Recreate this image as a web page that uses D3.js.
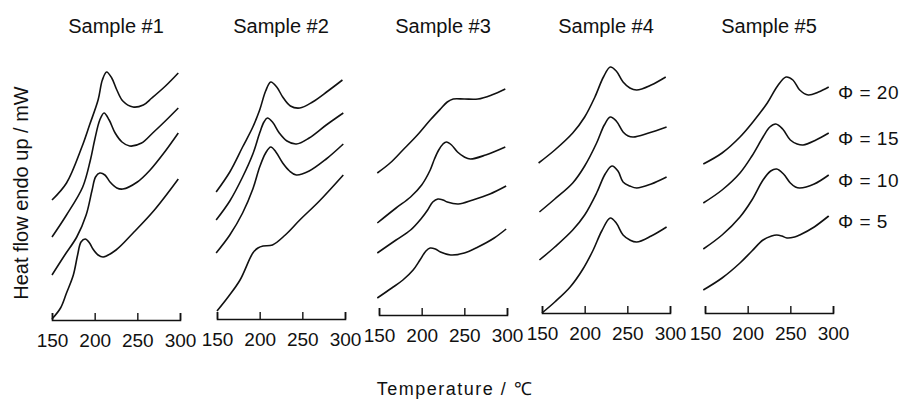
<!DOCTYPE html>
<html>
<head>
<meta charset="utf-8">
<script src="https://cdn.jsdelivr.net/npm/d3@7"></script>
<style>
  body { margin: 0; background: #fff; }
  svg text { font-family: Arial, "Liberation Sans", sans-serif; fill: #111; }
</style>
</head>
<body>
<div id="chart"></div>
<script>
// data: [temperature, heat flow (arb.)], curves ordered phi 5,10,15,20
var sampleNames = ["Sample #1", "Sample #2", "Sample #3", "Sample #4", "Sample #5"];
var phiLevels = [5, 10, 15, 20];
var tickTemps = [150, 200, 250, 300];

var sample1 = [
	[[150,1],[160,12],[167,27],[175,45],[180,65],[184,78],[189,81],[194,77],[198,71],[204,65],[210,63],[225,70],[245,87],[270,110],[298,141]],
	[[150,45],[165,65],[179,83],[190,105],[197,130],[201,143],[206,147],[212,145],[218,138],[226,132],[233,131],[250,138],[265,150],[282,168],[298,187]],
	[[150,83],[167,105],[186,133],[195,160],[200,180],[206,200],[211,207],[217,200],[224,187],[232,178],[241,174],[255,177],[268,187],[284,200],[298,212]],
	[[150,120],[167,137],[185,173],[194,195],[204,220],[209,240],[214,248],[220,242],[226,230],[233,219],[245,213],[257,215],[267,222],[283,234],[298,247]]
];
var sample2 = [
	[[150,8],[163,22],[177,39],[192,66],[198,71],[204,73],[215,74],[230,84],[247,99],[270,118],[298,144]],
	[[149,66],[165,84],[180,106],[192,130],[200,152],[207,166],[213,172],[219,167],[227,156],[235,148],[243,144],[258,148],[278,160],[298,175]],
	[[149,99],[165,118],[180,142],[192,165],[200,186],[205,197],[209,201],[215,197],[223,186],[232,178],[243,175],[258,181],[278,194],[298,206]],
	[[149,127],[165,147],[180,172],[192,192],[200,209],[207,228],[213,237],[220,232],[227,222],[236,213],[247,211],[262,217],[280,228],[297,239]]
];
var sample3 = [
	[[148,17],[165,27],[178,35],[190,45],[198,55],[205,64],[210,67],[216,66],[222,63],[234,60],[250,62],[266,68],[285,77],[299,86]],
	[[148,62],[170,75],[187,85],[200,97],[207,105],[213,113],[219,116],[225,115],[230,113],[243,111],[260,115],[280,121],[299,129]],
	[[148,92],[170,107],[187,118],[200,130],[210,145],[215,156],[220,165],[225,171],[229,173],[235,170],[242,163],[250,158],[257,156],[275,160],[298,168]],
	[[148,142],[163,152],[178,165],[195,180],[210,195],[222,206],[230,213],[237,216],[250,216],[266,216],[282,220],[298,226]]
];
var sample4 = [
	[[150,0],[165,11],[183,26],[198,44],[210,63],[220,82],[230,95],[237,90],[245,78],[253,73],[261,71],[278,77],[296,86]],
	[[147,53],[165,66],[186,83],[200,98],[214,120],[224,139],[232,147],[239,142],[245,131],[253,127],[261,125],[278,129],[296,136]],
	[[147,101],[165,114],[186,130],[200,147],[214,170],[223,188],[230,196],[237,192],[245,181],[251,177],[257,176],[275,180],[296,186]],
	[[146,150],[165,163],[186,180],[200,196],[212,216],[222,236],[230,246],[237,242],[245,231],[253,225],[261,223],[278,228],[295,236]]
];
var sample5 = [
	[[148,23],[170,35],[191,50],[205,62],[218,73],[228,77],[234,78],[240,77],[246,75],[255,76],[261,78],[278,86],[295,97]],
	[[148,64],[170,78],[191,96],[205,113],[218,133],[227,142],[234,144],[242,139],[250,130],[256,126],[261,125],[278,129],[295,138]],
	[[148,110],[170,123],[191,140],[205,157],[218,176],[226,186],[233,189],[241,184],[250,173],[258,169],[265,168],[280,173],[295,180]],
	[[148,149],[170,160],[191,176],[208,193],[223,210],[235,227],[245,236],[253,233],[261,223],[271,218],[283,221],[295,226]]
];
var samples = [sample1, sample2, sample3, sample4, sample5];

var width = 906, height = 403;
var panelLeft = [52, 217, 379, 542, 705];
var panelBase = [320, 319, 315, 313, 313];
var panelWidth = 128;

var svg = d3.select("#chart")
	.append("svg")
	.attr("width", width)
	.attr("height", height);

var xScale = d3.scaleLinear().domain([150, 300]).range([0, panelWidth]);

samples.forEach(function(curves, i) {
	var yScale = d3.scaleLinear().domain([0, 250]).range([panelBase[i], panelBase[i] - 250]);
	var g = svg.append("g").attr("transform", "translate(" + panelLeft[i] + ",0)");

	var line = d3.line()
		.x(function(d) { return xScale(d[0]); })
		.y(function(d) { return yScale(d[1]); })
		.curve(d3.curveCatmullRom.alpha(0.5));

	g.selectAll("path.curve")
		.data(curves)
		.enter()
		.append("path")
		.attr("class", "curve")
		.attr("d", line)
		.attr("fill", "none")
		.attr("stroke", "#111")
		.attr("stroke-width", 1.6);

	var axis = d3.axisBottom(xScale)
		.tickValues(tickTemps)
		.tickSize(-7)
		.tickPadding(14);

	var ax = g.append("g")
		.attr("transform", "translate(0," + panelBase[i] + ")")
		.call(axis);
	ax.select(".domain").attr("stroke", "#111").attr("stroke-width", 1.6);
	ax.selectAll(".tick line").attr("stroke", "#111").attr("stroke-width", 1.4);
	ax.selectAll(".tick text")
		.attr("font-size", 19)
		.attr("font-family", "Arial, 'Liberation Sans', sans-serif")
		.attr("fill", "#111");

	g.append("text")
		.text(sampleNames[i])
		.attr("x", panelWidth / 2)
		.attr("y", 33)
		.attr("text-anchor", "middle")
		.attr("font-size", 20);

	// phi labels next to the last panel
	if (i === samples.length - 1) {
		g.selectAll("text.phi")
			.data(curves)
			.enter()
			.append("text")
			.attr("class", "phi")
			.attr("x", panelWidth + 5)
			.attr("y", function(d) { var last = d[d.length - 1]; return yScale(last[1]) + 12; })
			.attr("font-size", 19)
			.attr("letter-spacing", 0.5)
			.text(function(d, k) { return "\u03A6 = " + phiLevels[k]; });
	}
});

svg.append("text")
	.text("Heat flow endo up / mW")
	.attr("transform", "translate(28,193) rotate(-90)")
	.attr("text-anchor", "middle")
	.attr("font-size", 20);

svg.append("text")
	.text("Temperature / \u2103")
	.attr("x", 455)
	.attr("y", 395)
	.attr("text-anchor", "middle")
	.attr("font-size", 18)
	.attr("letter-spacing", 1.5);
</script>
</body>
</html>
